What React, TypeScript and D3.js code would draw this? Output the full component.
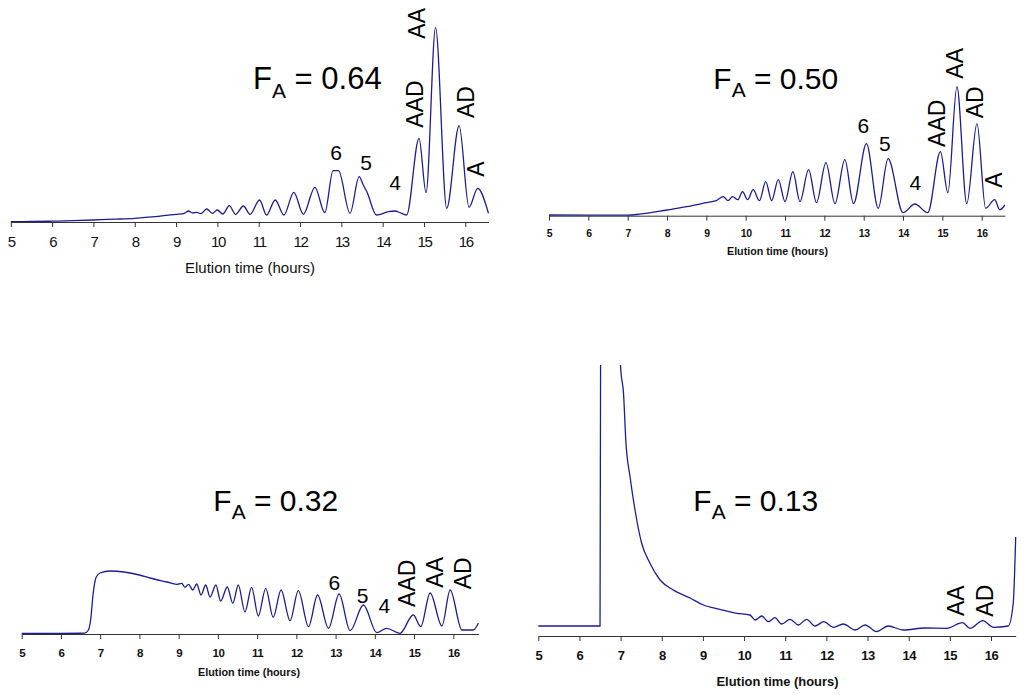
import React, { useEffect, useRef } from 'react';
import * as d3 from 'd3';

const FONT = '"Liberation Sans", Arial, Helvetica, sans-serif';
const LINE = '#1c1c94';

// elution time ticks (hours)
const timeTicks = [5, 6, 7, 8, 9, 10, 11, 12, 13, 14, 15, 16];

// traces: [elution time (h), detector signal]
const trace064: [number, number][] = [
  [5.0, 0.3], [5.5, 0.5], [6.0, 0.8], [6.5, 1.3], [7.0, 2], [7.5, 2.8], [8.0, 3.7], [8.5, 5.3],
  [9.0, 7.7], [9.2, 8.7], [9.3, 11], [9.4, 9], [9.5, 9.7], [9.6, 8.3], [9.74, 13], [9.88, 8.7],
  [10.0, 12], [10.13, 8], [10.29, 16.3], [10.44, 7.7], [10.63, 16], [10.79, 7.7], [11.02, 22],
  [11.19, 7], [11.4, 22], [11.61, 7], [11.85, 29.7], [12.08, 7.7], [12.36, 34.7], [12.6, 9.3],
  [12.8, 51.3], [12.93, 51.3], [13.21, 8.7], [13.43, 45.3], [13.53, 37], [13.62, 30], [13.85, 7],
  [14.14, 10.3], [14.3, 11], [14.42, 9.3], [14.58, 7], [14.88, 83.7], [15.05, 29.3], [15.28, 194.3],
  [15.55, 13.7], [15.85, 96.3], [16.09, 14.7], [16.3, 33.7], [16.56, 8.7],
];

const trace050: [number, number][] = [
  [5.0, 0.7], [6.0, 0.5], [7.0, 0.5], [7.3, 1.5], [8.0, 5.7], [8.5, 9], [9.0, 13], [9.25, 15],
  [9.43, 19], [9.55, 15], [9.67, 19], [9.8, 16], [9.92, 24], [10.05, 16], [10.19, 26], [10.35, 15],
  [10.51, 34], [10.66, 15], [10.83, 36], [11.0, 14], [11.2, 44], [11.38, 14], [11.6, 46], [11.8, 13],
  [12.04, 53], [12.27, 12], [12.52, 56], [12.74, 12], [13.07, 72], [13.37, 7.4], [13.62, 57],
  [14.0, 3], [14.3, 11.7], [14.63, 3], [14.95, 64], [15.14, 23], [15.37, 129], [15.62, 12],
  [15.88, 92], [16.1, 7.4], [16.33, 16], [16.46, 6], [16.59, 10.7],
];

const trace032: [number, number][] = [
  [5.0, 0.7], [6.0, 0.7], [6.6, 0.8], [6.7, 4], [6.76, 15], [6.82, 40], [6.9, 57], [7.0, 61],
  [7.25, 63], [8.0, 59], [8.27, 56], [8.7, 52], [8.95, 49.7], [9.08, 50.7], [9.16, 46.7],
  [9.25, 49.7], [9.36, 44], [9.46, 50], [9.57, 39], [9.69, 49], [9.8, 37], [9.95, 49], [10.07, 33],
  [10.24, 47], [10.38, 30.7], [10.52, 49], [10.69, 22], [10.86, 46.7], [11.03, 18], [11.22, 45.7],
  [11.41, 16.7], [11.61, 44], [11.84, 13.3], [12.05, 43.3], [12.31, 7.3], [12.54, 39], [12.82, 5.7],
  [13.09, 40], [13.37, 3.3], [13.71, 29], [14.05, 1.3], [14.3, 5.7], [14.64, 0.7], [14.98, 19],
  [15.17, 7.3], [15.41, 41], [15.71, 8], [15.92, 44], [16.22, 4], [16.51, 4], [16.64, 11],
];

const trace013: [number, number][] = [
  [5.0, 10], [6.0, 10], [6.5, 10], [6.52, 400], [6.75, 450], [6.99, 290], [7.0, 269],
  [7.07, 243], [7.13, 193], [7.23, 159], [7.35, 126], [7.51, 93], [7.71, 73], [7.96, 56],
  [8.28, 46], [8.69, 38], [9.01, 31], [9.41, 26.7], [9.82, 22.7], [10.14, 21], [10.27, 16],
  [10.43, 20], [10.59, 14.3], [10.75, 18.3], [10.91, 12], [11.12, 16.7], [11.32, 11], [11.52, 16.7],
  [11.72, 10], [11.94, 14.3], [12.17, 8.7], [12.41, 12], [12.7, 6], [12.94, 11], [13.22, 4.3],
  [13.5, 10], [13.87, 6], [14.4, 8], [14.92, 7.7], [15.31, 13.3], [15.49, 7.7], [15.8, 15.3],
  [16.06, 8.7], [16.42, 10], [16.54, 32.7], [16.6, 99],
];

type PeakLabel = { text: string; t: number; v: number; vertical?: boolean };

const labels064: PeakLabel[] = [
  { text: '6', t: 12.87, v: 70 }, { text: '5', t: 13.6, v: 60 }, { text: '4', t: 14.3, v: 40 },
  { text: 'AAD', t: 14.78, v: 118, vertical: true }, { text: 'AA', t: 14.84, v: 198.7, vertical: true },
  { text: 'AD', t: 16.01, v: 120, vertical: true }, { text: 'A', t: 16.27, v: 53, vertical: true },
];
const labels050: PeakLabel[] = [
  { text: '6', t: 12.99, v: 90.7 }, { text: '5', t: 13.54, v: 72.4 }, { text: '4', t: 14.31, v: 33.4 },
  { text: 'AAD', t: 14.86, v: 92.4, vertical: true }, { text: 'AA', t: 15.33, v: 152.4, vertical: true },
  { text: 'AD', t: 15.83, v: 113.4, vertical: true }, { text: 'A', t: 16.3, v: 35.7, vertical: true },
];
const labels032: PeakLabel[] = [
  { text: '6', t: 12.97, v: 51.3 }, { text: '5', t: 13.69, v: 39 }, { text: '4', t: 14.24, v: 29 },
  { text: 'AAD', t: 14.81, v: 50.7, vertical: true }, { text: 'AA', t: 15.54, v: 61.7, vertical: true },
  { text: 'AD', t: 16.25, v: 60.7, vertical: true },
];
const labels013: PeakLabel[] = [
  { text: 'AA', t: 15.15, v: 35.3, vertical: true }, { text: 'AD', t: 15.86, v: 35.3, vertical: true },
];

const fractions = ['0.64', '0.50', '0.32', '0.13'];

const panels = [
  {
    fa: fractions[0], trace: trace064, labels: labels064,
    x5: 10.8, x16: 465.3, tEnd: 16.56, axisY: 222, top: 22,
    titleX: 253, titleY: 89.3, titleSize: 31, subDy: 9,
    tickDy: 19.7, tickFont: 15, tickWeight: 'normal', tickSpacing: -1.4,
    xtX: 250, xtY: 267, xtFont: 15, xtW: 130, xtWeight: 'normal',
  },
  {
    fa: fractions[1], trace: trace050, labels: labels050,
    x5: 549, x16: 981.7, tEnd: 16.59, axisY: 215.7, top: 22,
    titleX: 713.3, titleY: 89.3, titleSize: 30, subDy: 8,
    tickDy: 17.3, tickFont: 10.5, tickWeight: 'bold', tickSpacing: -0.5,
    xtX: 777.5, xtY: 250.7, xtFont: 11, xtW: 101, xtWeight: 'bold',
  },
  {
    fa: fractions[2], trace: trace032, labels: labels032,
    x5: 21.7, x16: 453.3, tEnd: 16.64, axisY: 634, top: 400,
    titleX: 213.3, titleY: 510.7, titleSize: 30, subDy: 8.5,
    tickDy: 18.7, tickFont: 11.5, tickWeight: 'bold', tickSpacing: -0.5,
    xtX: 249, xtY: 671.7, xtFont: 11, xtW: 102, xtWeight: 'bold',
  },
  {
    fa: fractions[3], trace: trace013, labels: labels013,
    x5: 538.3, x16: 991, tEnd: 16.6, axisY: 636, top: 365,
    titleX: 693.3, titleY: 510.7, titleSize: 30, subDy: 8.5,
    tickDy: 19, tickFont: 13, tickWeight: 'bold', tickSpacing: -0.5,
    xtX: 777.5, xtY: 681.7, xtFont: 13, xtW: 122, xtWeight: 'bold',
  },
];

type PanelCfg = (typeof panels)[0];

function Panel({ cfg, idx }: { cfg: PanelCfg; idx: number }) {
  const axisRef = useRef<SVGGElement>(null);
  const xEnd = cfg.x5 + ((cfg.tEnd - 5) * (cfg.x16 - cfg.x5)) / 11;
  const x = d3.scaleLinear().domain([5, cfg.tEnd]).range([cfg.x5, xEnd]);
  const y = d3.scaleLinear().domain([0, cfg.axisY - cfg.top]).range([cfg.axisY, cfg.top]);
  const line = d3.line<[number, number]>()
    .x(d => x(d[0]))
    .y(d => y(d[1]))
    .curve(d3.curveMonotoneX);

  useEffect(() => {
    if (!axisRef.current) return;
    const g = d3.select(axisRef.current);
    g.selectAll('*').remove();
    g.call(
      d3.axisBottom(x)
        .tickValues(timeTicks)
        .tickFormat(d3.format('d'))
        .tickSize(5)
        .tickSizeOuter(0)
    );
    g.attr('font-family', FONT).attr('font-size', cfg.tickFont).attr('color', '#111');
    g.select('.domain').attr('stroke', '#333');
    g.selectAll('.tick line').attr('stroke', '#333');
    g.selectAll('.tick text')
      .attr('y', cfg.tickDy)
      .attr('dy', '0.35em')
      .attr('font-weight', cfg.tickWeight)
      .attr('letter-spacing', cfg.tickSpacing);
  }, []);

  return (
    <g>
      <defs>
        <clipPath id={`plot-clip-${idx}`}>
          <rect x={x(5) - 2} y={cfg.top} width={xEnd - x(5) + 4} height={cfg.axisY - cfg.top + 2} />
        </clipPath>
      </defs>
      <path
        d={line(cfg.trace) ?? ''}
        fill="none"
        stroke={LINE}
        strokeWidth={1.3}
        clipPath={`url(#plot-clip-${idx})`}
      />
      <g ref={axisRef} transform={`translate(0,${cfg.axisY})`} />
      <text
        x={cfg.titleX}
        y={cfg.titleY}
        fontSize={cfg.titleSize}
        fontFamily={FONT}
        fill="#000"
        style={{ whiteSpace: 'pre' }}
      >
        F
        <tspan fontSize={21} dy={cfg.subDy}>A</tspan>
        <tspan dy={-cfg.subDy}>{' = ' + cfg.fa}</tspan>
      </text>
      {cfg.labels.map(l => (
        <text
          key={l.text}
          transform={`translate(${x(l.t)},${y(l.v)})${l.vertical ? ' rotate(-90)' : ''}`}
          textAnchor="middle"
          dominantBaseline="central"
          fontFamily={FONT}
          fontSize={l.vertical ? 23 : 21}
          fill="#000"
        >
          {l.text}
        </text>
      ))}
      <text
        x={cfg.xtX}
        y={cfg.xtY}
        textAnchor="middle"
        dominantBaseline="central"
        fontFamily={FONT}
        fontSize={cfg.xtFont}
        fontWeight={cfg.xtWeight}
        textLength={cfg.xtW}
        lengthAdjust="spacingAndGlyphs"
        fill="#111"
      >
        Elution time (hours)
      </text>
    </g>
  );
}

export default function App() {
  return (
    <svg
      width={1024}
      height={695}
      style={{ position: 'absolute', left: 0, top: 0, background: '#fff' }}
    >
      {panels.map((p, i) => (
        <Panel key={p.fa} cfg={p} idx={i} />
      ))}
    </svg>
  );
}
